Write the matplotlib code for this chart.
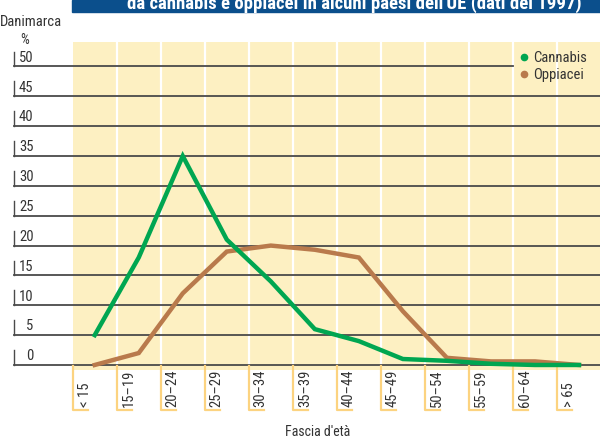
import matplotlib
matplotlib.use("Agg")
import matplotlib.pyplot as plt
from matplotlib.transforms import blended_transform_factory
from matplotlib.lines import Line2D
from matplotlib.patches import Rectangle

plt.rcParams["font.family"] = ["Roboto Condensed", "DejaVu Sans"]
plt.rcParams["font.stretch"] = "condensed"

# age groups
categories = ["< 15", "15\u201319", "20\u201324", "25\u201329", "30\u201334", "35\u201339",
              "40\u201344", "45\u201349", "50\u201354", "55\u201359", "60\u201364", "> 65"]
# % of users by age group, Denmark
cannabis = [5, 18, 35, 21, 14, 6, 4, 1, 0.7, 0.2, 0, 0]
oppiacei = [0, 2, 12, 19, 20, 19.3, 18, 9, 1.2, 0.6, 0.6, 0]
yticks = [0, 5, 10, 15, 20, 25, 30, 35, 40, 45, 50]

green = "#00a651"
brown = "#b97a4c"
yellow = "#fdf0c2"
bracket = "#fcd380"

W, H = 600, 438
fig = plt.figure(figsize=(6, 4.38), dpi=100)
# axes: x from 72.7 to 601 px, y from 42 to 370 px
ax = fig.add_axes([72.7 / W, 1 - 370 / H, (601 - 72.7) / W, (370 - 42) / H])
ax.set_facecolor(yellow)
for s in ax.spines.values():
    s.set_visible(False)
ax.set_xticks([])
ax.set_yticks([])

x = list(range(len(categories)))
ax.set_xlim(-0.5, len(categories) - 0.5)
ax.set_ylim(-0.84, 54.1)

# white column separators
for i in range(len(categories) - 1):
    ax.axvline(i + 0.5, color="white", lw=1.6, zorder=1)

# grid lines reaching out to the left labels
tr = blended_transform_factory(fig.transFigure, ax.transData)
for v in yticks:
    xend = 512.7 / W if v == 50 else 1.0
    ax.add_line(Line2D([14 / W, xend], [v, v], transform=tr, color="#4a4a4a",
                       lw=1.3, clip_on=False, zorder=2))
    ax.add_line(Line2D([14 / W, 14 / W], [v, v + 2.5], transform=tr, color="#4a4a4a",
                       lw=1.0, clip_on=False, zorder=2))
    ax.text(33.5 / W, v + 0.8, str(v), transform=tr, ha="right", va="baseline",
            fontsize=10.5, color="#333333")

ax.plot(x, cannabis, color=green, lw=3.2, solid_joinstyle="miter", zorder=4,
        label="Cannabis")
ax.plot(x, oppiacei, color=brown, lw=3.2, solid_joinstyle="miter", zorder=3,
        label="Oppiacei")

# category brackets and labels under the axes
trb = blended_transform_factory(ax.transData, fig.transFigure)
foot = 15 / 44
for i, lab in enumerate(categories):
    left = i - 0.5
    ax.add_line(Line2D([left, left, left + foot], [1 - 366 / H, 1 - 410 / H, 1 - 410 / H],
                       transform=trb, color=bracket, lw=1.6, clip_on=False))
    ax.text(left + 12 / 44, 1 - 407 / H, lab, transform=trb, rotation=90,
            ha="center", va="bottom", fontsize=10.5, color="#333333")

fig.text(318 / W, 1 - 432 / H, "Fascia d'et\u00e0", ha="center", va="center",
         fontsize=10, color="#333333")

# legend
handles = [Line2D([], [], marker="o", ls="", color=green, markersize=4.5),
           Line2D([], [], marker="o", ls="", color=brown, markersize=4.5)]
fig.legend(handles, ["Cannabis", "Oppiacei"], loc="upper left",
           bbox_to_anchor=(520 / W, 1 - 51 / H), frameon=False, fontsize=10.5,
           handlelength=0.6, handletextpad=0.3, labelspacing=0.2, borderpad=0,
           borderaxespad=0, labelcolor="#333333")

# titles
fig.text(0, 1 - 26 / H, "Danimarca", ha="left", va="baseline", fontsize=10.5,
         color="#333333")
fig.text(20 / W, 1 - 44 / H, "%", ha="left", va="baseline", fontsize=10,
         color="#333333")
fig.patches.append(Rectangle((72 / W, 1 - 12 / H), 1 - 72 / W, 12 / H,
                             transform=fig.transFigure, color="#0b4f8c", zorder=0))
fig.text(354 / W, 1 - 8.5 / H,
         "da cannabis e oppiacei in alcuni paesi dell'UE (dati del 1997)",
         ha="center", va="baseline", fontsize=13.5, fontweight="bold", color="white")

fig.savefig("out.png", dpi=100)
